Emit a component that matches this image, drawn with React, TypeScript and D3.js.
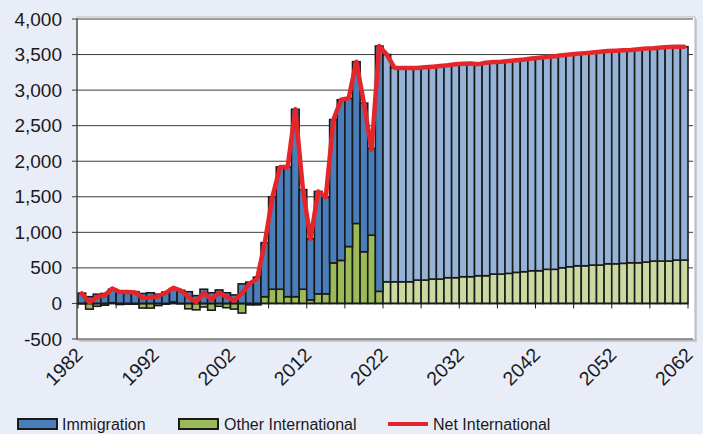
import React from "react";
import * as d3 from "d3";

// Years (year-ending), one bar each
const years: number[] = d3.range(1983, 2063);
const firstProjectionYear = 2023;

// Immigration (stacked segment above Other International when positive)
const immigration: number[] = [
  145, 95, 130, 140, 190, 175, 170, 165, 140, 150,
  130, 160, 190, 185, 165, 110, 200, 150, 190, 150,
  120, 275, 300, 370, 760, 1300, 1720, 1825, 2635, 1400,
  860, 1440, 1360, 2015, 2260, 2085, 2275, 2090, 1220, 3450,
  3195, 3010, 3005, 3005, 2981, 2991, 2987, 2997, 2988, 3003,
  2994, 2999, 2975, 2995, 2982, 2987, 2987, 2983, 2984, 2985,
  2995, 2985, 2995, 2988, 2984, 2980, 2990, 2990, 3000, 2992,
  2997, 2996, 2993, 3003, 3003, 2994, 3004, 3009, 3000, 3000,
];

// Other International
const otherInternational: number[] = [
  -5, -80, -40, -25, 10, -15, -10, -10, -65, -65,
  -30, -10, 20, -5, -75, -90, -50, -95, -40, -60,
  -80, -135, -20, -20, 95, 200, 200, 95, 95, 200,
  50, 135, 135, 570, 605, 800, 1125, 727, 960, 170,
  305, 305, 305, 305, 329, 329, 343, 343, 362, 362,
  376, 376, 390, 390, 413, 413, 423, 437, 446, 460,
  460, 480, 480, 502, 516, 530, 530, 540, 540, 558,
  558, 564, 572, 572, 582, 596, 596, 596, 610, 610,
];

// Net International
const netInternational: number[] = [
  140, 15, 90, 115, 210, 160, 160, 155, 75, 85,
  100, 150, 220, 180, 90, 20, 150, 55, 150, 90,
  40, 140, 280, 350, 855, 1500, 1920, 1920, 2730, 1600,
  910, 1575, 1495, 2585, 2865, 2885, 3400, 2817, 2160, 3620,
  3500, 3315, 3310, 3310, 3310, 3320, 3330, 3340, 3350, 3365,
  3370, 3375, 3365, 3385, 3395, 3400, 3410, 3420, 3430, 3445,
  3455, 3465, 3475, 3490, 3500, 3510, 3520, 3530, 3540, 3550,
  3555, 3560, 3565, 3575, 3585, 3590, 3600, 3605, 3610, 3610,
];

const yTicks: number[] = [-500, 0, 500, 1000, 1500, 2000, 2500, 3000, 3500, 4000];
const xTickYears: number[] = [1982, 1987, 1992, 1997, 2002, 2007, 2012, 2017, 2022, 2027, 2032, 2037, 2042, 2047, 2052, 2057, 2062];
const xLabelYears: number[] = [1982, 1992, 2002, 2012, 2022, 2032, 2042, 2052, 2062];

const seriesNames = ["Immigration", "Other International", "Net International"];

const COLORS = {
  immHist: "#4A7EBB",
  immProj: "#95B3D7",
  othHist: "#9BBB59",
  othProj: "#C9D9A0",
  net: "#E4262A",
  bg: "#E9EDF8",
};

const W = 703;
const H = 434;
const FONT = "'Liberation Sans', Arial, Helvetica, sans-serif";

const fmtY = (v: number) => d3.format(",")(v).replace("\u2212", "-");

export default function App() {
  const x = d3.scaleLinear().domain([1982, 2062]).range([78, 688]);
  const y = d3.scaleLinear().domain([-500, 4000]).range([339, 19]);

  const table = years.map((yr, i) => ({
    year: yr,
    other: otherInternational[i],
    immigration: immigration[i],
  }));
  const stack = d3
    .stack<any>()
    .keys(["other", "immigration"])
    .offset(d3.stackOffsetDiverging);
  const stacked = stack(table);

  const line = d3
    .line<number>()
    .x((_, i) => x(years[i] - 0.5))
    .y((d) => y(d))
    .curve(d3.curveLinear);

  const colorFor = (key: string, yr: number) => {
    const proj = yr >= firstProjectionYear;
    if (key === "immigration") return proj ? COLORS.immProj : COLORS.immHist;
    return proj ? COLORS.othProj : COLORS.othHist;
  };

  const plotLeft = 77;
  const plotRight = 695;
  const plotTop = 17;
  const plotBottom = 340;

  return (
    <svg
      width={W}
      height={H}
      style={{ position: "absolute", left: 0, top: 0, display: "block" }}
      fontFamily={FONT}
    >
      <rect x={0} y={0} width={W} height={H} fill={COLORS.bg} />
      {/* plot area with shadow */}
      <rect x={plotLeft + 2} y={plotTop + 2} width={plotRight - plotLeft} height={plotBottom - plotTop} fill="#C8CBD3" />
      <rect x={plotLeft} y={plotTop} width={plotRight - plotLeft} height={plotBottom - plotTop} fill="#FFFFFF" stroke="#B5B5B5" strokeWidth={1} />

      {/* gridlines */}
      {yTicks.filter((t) => t !== 0).map((t) => (
        <line key={"g" + t} x1={plotLeft} x2={plotRight - 2} y1={y(t)} y2={y(t)} stroke="#3A3A3A" strokeWidth={1} />
      ))}

      {/* bars */}
      {stacked.map((s) => (
        <g key={s.key}>
          {s.map((d, i) => {
            const yr = years[i];
            const x0 = x(yr - 1);
            const x1 = x(yr);
            const top = Math.min(y(d[0]), y(d[1]));
            const h = Math.abs(y(d[0]) - y(d[1]));
            if (h < 0.01) return null;
            return (
              <rect
                key={yr}
                x={x0}
                y={top}
                width={x1 - x0}
                height={h}
                fill={colorFor(s.key as string, yr)}
                stroke="#1A1A1A"
                strokeWidth={1.6}
              />
            );
          })}
        </g>
      ))}

      {/* y axis */}
      <line x1={plotLeft} x2={plotLeft} y1={y(4000)} y2={y(-500)} stroke="#3A3A3A" strokeWidth={1.2} />
      {yTicks.map((t) => (
        <g key={"yt" + t}>
          <line x1={plotLeft - 5} x2={plotLeft} y1={y(t)} y2={y(t)} stroke="#3A3A3A" strokeWidth={1} />
          <text
            x={62}
            y={y(t)}
            textAnchor="end"
            dominantBaseline="central"
            fontSize={19}
            fill="#1A1A1A"
          >
            {fmtY(t)}
          </text>
        </g>
      ))}

      {/* x axis at zero */}
      <line x1={plotLeft} x2={x(2062)} y1={y(0)} y2={y(0)} stroke="#1A1A1A" strokeWidth={1.5} />
      {xTickYears.map((t) => (
        <line key={"xt" + t} x1={x(t)} x2={x(t)} y1={y(0)} y2={y(0) + 5} stroke="#1A1A1A" strokeWidth={1} />
      ))}
      {xLabelYears.map((t) => (
        <text
          key={"xl" + t}
          transform={`translate(${x(t) + 6},${356}) rotate(-45)`}
          textAnchor="end"
          fontSize={19.5}
          fill="#1A1A1A"
        >
          {t}
        </text>
      ))}

      {/* net line */}
      <path
        d={line(netInternational) || ""}
        fill="none"
        stroke={COLORS.net}
        strokeWidth={4.5}
        strokeLinejoin="round"
        strokeLinecap="round"
      />

      {/* legend */}
      <g fontSize={16} fill="#1A1A1A">
        <rect x={18} y={419} width={39} height={10} fill={COLORS.immHist} stroke="#1A1A1A" strokeWidth={2} />
        <text x={62} y={430}>{seriesNames[0]}</text>
        <rect x={179} y={419} width={39} height={10} fill={COLORS.othHist} stroke="#1A1A1A" strokeWidth={2} />
        <text x={224} y={430}>{seriesNames[1]}</text>
        <line x1={388} x2={428} y1={424} y2={424} stroke={COLORS.net} strokeWidth={4} />
        <text x={433} y={430}>{seriesNames[2]}</text>
      </g>
    </svg>
  );
}
